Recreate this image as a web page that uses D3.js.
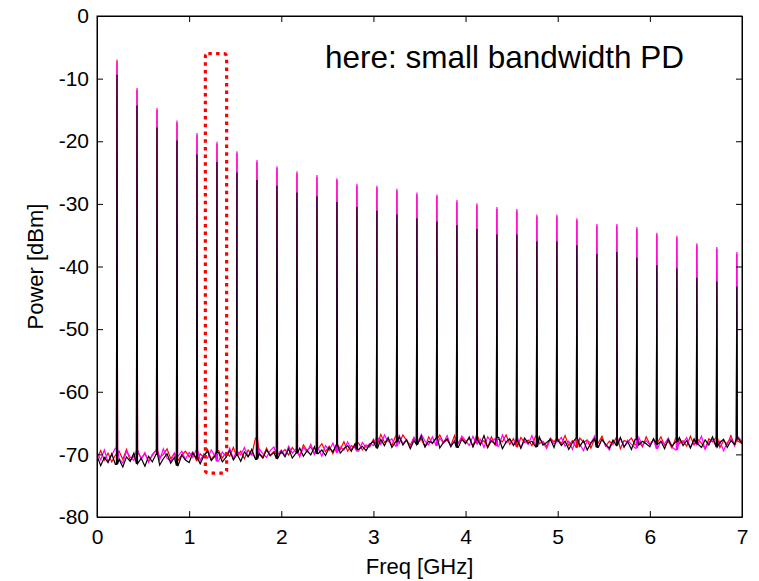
<!DOCTYPE html>
<html>
<head>
<meta charset="utf-8">
<script src="https://cdn.jsdelivr.net/npm/d3@7"></script>
<style>
  body { margin: 0; background: #fff; }
  text { font-family: "Liberation Sans", Arial, Helvetica, sans-serif; fill: #000; }
</style>
</head>
<body>
<div id="chart"></div>
<script>
// ---- data ----
const peakFreqs = [0.217, 0.434, 0.651, 0.868, 1.085, 1.302, 1.519, 1.736, 1.953, 2.170, 2.387, 2.604,
                   2.821, 3.038, 3.255, 3.472, 3.689, 3.906, 4.123, 4.340, 4.557, 4.774, 4.991, 5.208,
                   5.425, 5.642, 5.859, 6.076, 6.293, 6.510, 6.727, 6.944];

const peaksMagenta = [-7.3, -11.5, -14.7, -16.7, -18.7, -20.1, -21.6, -23.0, -24.0, -24.8, -25.4, -25.9,
                      -26.8, -27.1, -27.6, -28.2, -28.5, -29.4, -29.9, -30.5, -30.8, -31.7, -31.7, -32.3,
                      -33.2, -33.2, -33.7, -34.6, -35.1, -36.3, -36.9, -37.7];
const peaksRed = [-7.0, -11.8, -15.0, -17.0, -19.0, -20.4, -21.9, -23.3, -24.3, -25.1, -25.7, -26.2,
                  -27.1, -27.4, -27.9, -28.5, -28.8, -29.7, -30.2, -30.8, -31.1, -32.0, -32.0, -32.6,
                  -33.5, -33.5, -34.0, -34.9, -35.4, -36.6, -37.2, -38.0];
const peaksBlack = [-9.4, -14.3, -17.8, -19.9, -22.1, -23.3, -25.0, -26.2, -27.1, -28.2, -28.8, -29.7,
                    -30.5, -31.1, -31.7, -32.3, -32.8, -33.4, -34.0, -34.9, -34.9, -36.0, -36.0, -36.6,
                    -38.0, -37.7, -38.6, -39.8, -40.3, -41.8, -42.4, -43.2];

// noise floor, one sample every 0.04 GHz from 0 to 7 GHz (one row per GHz)
const noiseStep = 0.04;
const noiseBlack = [
  -70.2,-71.8,-70.5,-71.3,-69.9,-71.6,-70.8,-72.0,-70.4,-71.1,-69.8,-71.5,-70.6,-71.9,-70.3,-71.2,-70.0,-71.7,-70.7,-69.9,-71.4,-70.5,-71.8,-70.1,-70.9,
  -71.3,-69.8,-70.6,-71.5,-70.2,-69.5,-71.0,-70.3,-69.7,-71.2,-70.5,-69.4,-70.9,-70.1,-71.1,-69.6,-70.4,-69.2,-70.8,-69.9,-70.6,-69.3,-70.2,-69.7,-70.7,
  -69.5,-70.4,-69.1,-70.6,-69.8,-69.0,-70.3,-69.4,-70.1,-68.8,-69.9,-69.3,-70.2,-68.9,-69.6,-68.5,-69.8,-69.1,-68.6,-69.5,-68.3,-69.2,-68.7,-69.4,-68.4,
  -67.9,-69.0,-67.6,-68.6,-67.3,-68.9,-68.0,-67.2,-68.5,-67.7,-69.1,-67.8,-68.4,-67.1,-68.8,-67.9,-68.2,-67.4,-69.0,-68.1,-67.5,-68.7,-67.9,-68.9,-67.6,
  -68.3,-67.2,-68.8,-67.6,-68.5,-67.0,-68.9,-67.8,-68.4,-67.3,-69.1,-68.0,-67.5,-68.6,-67.8,-69.0,-67.4,-68.2,-67.9,-68.8,-67.2,-68.5,-68.1,-67.6,-68.9,
  -67.7,-68.6,-67.9,-69.2,-68.1,-67.4,-68.7,-67.8,-69.3,-68.2,-67.5,-68.9,-67.6,-68.4,-69.0,-67.7,-68.6,-67.3,-68.8,-68.0,-69.2,-67.6,-68.5,-67.9,-68.3,
  -68.8,-67.5,-68.4,-67.9,-69.1,-67.6,-68.7,-68.0,-67.3,-68.6,-67.8,-69.0,-67.5,-68.3,-68.9,-67.7,-68.5,-67.2,-68.8,-68.1,-67.6,-68.9,-67.8,-68.4,-67.5,-68.2];
const noiseMagenta = [
  -69.6,-70.9,-69.3,-71.2,-70.1,-69.0,-70.7,-71.4,-69.5,-70.4,-71.0,-69.2,-70.8,-69.7,-71.3,-70.0,-69.4,-70.9,-69.1,-70.6,-71.1,-69.8,-70.3,-69.5,-70.8,
  -69.7,-70.5,-69.2,-71.0,-69.9,-70.6,-69.3,-70.2,-71.1,-69.6,-70.4,-69.0,-70.7,-69.5,-70.1,-68.9,-70.3,-69.8,-70.6,-69.1,-69.9,-70.5,-69.4,-68.8,-70.0,
  -69.3,-70.2,-68.7,-69.8,-69.1,-70.4,-68.9,-69.6,-68.4,-69.9,-69.0,-70.3,-68.6,-69.4,-68.2,-69.7,-68.8,-69.3,-68.0,-69.2,-68.6,-69.5,-68.1,-68.9,-68.3,
  -68.6,-67.2,-68.4,-66.9,-68.0,-67.5,-68.7,-67.0,-68.3,-67.6,-68.9,-67.3,-68.1,-66.8,-67.9,-68.5,-67.2,-68.6,-67.4,-68.2,-67.0,-68.8,-67.7,-68.3,-67.1,
  -67.8,-68.6,-67.1,-68.3,-67.6,-68.9,-67.2,-68.0,-67.5,-68.7,-66.9,-68.2,-67.7,-68.5,-67.3,-69.0,-67.8,-68.4,-67.0,-68.6,-67.5,-68.1,-69.1,-67.6,-68.3,
  -68.0,-67.3,-68.7,-67.9,-69.2,-67.5,-68.4,-69.4,-67.8,-68.2,-67.1,-68.8,-67.6,-68.5,-69.3,-67.9,-68.1,-67.4,-68.9,-67.7,-68.4,-69.0,-67.3,-68.6,-67.8,
  -68.5,-67.6,-69.1,-67.9,-68.3,-67.4,-68.8,-69.3,-67.7,-68.2,-67.3,-68.9,-67.8,-68.4,-67.1,-69.2,-68.0,-67.6,-68.7,-67.9,-69.4,-68.1,-67.5,-68.6,-67.2,-68.0];
const noiseRed = [
  -70.7,-69.4,-70.9,-69.8,-71.2,-70.1,-69.5,-70.8,-69.2,-71.0,-70.3,-69.6,-70.6,-69.9,-71.1,-70.2,-69.3,-70.5,-70.0,-69.1,-70.7,-69.8,-71.0,-70.1,-69.5,
  -70.4,-69.6,-71.0,-69.9,-70.5,-69.2,-70.8,-70.0,-69.4,-70.6,-69.7,-70.3,-68.9,-70.2,-69.5,-70.7,-69.3,-70.1,-67.4,-69.8,-70.4,-69.0,-70.2,-69.5,-70.0,
  -69.8,-69.2,-70.1,-68.9,-69.7,-70.3,-68.5,-69.4,-68.8,-70.0,-69.1,-68.3,-69.6,-68.7,-69.9,-68.4,-69.2,-68.0,-69.5,-68.6,-69.0,-68.2,-69.3,-68.5,-68.8,
  -67.6,-68.4,-66.8,-68.1,-67.5,-68.6,-67.1,-68.2,-66.9,-67.8,-68.5,-67.3,-68.0,-67.6,-68.8,-67.2,-68.3,-67.5,-66.9,-68.1,-67.7,-68.6,-67.0,-68.2,-67.4,
  -68.1,-67.4,-68.7,-67.0,-68.3,-67.8,-68.9,-67.2,-68.5,-67.6,-68.0,-66.9,-68.4,-67.5,-68.8,-67.3,-68.1,-67.7,-68.6,-67.1,-68.3,-67.9,-68.7,-67.4,-68.0,
  -67.5,-68.3,-67.0,-68.6,-67.8,-68.9,-67.4,-68.1,-67.7,-69.0,-67.5,-68.2,-67.1,-68.7,-67.9,-68.4,-67.3,-69.1,-67.8,-68.0,-67.4,-68.5,-67.9,-68.8,-67.2,
  -68.4,-67.7,-68.1,-67.2,-68.6,-67.9,-69.0,-67.4,-68.3,-67.8,-68.7,-67.1,-68.5,-67.6,-68.2,-69.1,-67.5,-68.0,-67.3,-68.9,-67.8,-68.4,-67.0,-68.6,-67.9,-68.3];

const xTicks = [0, 1, 2, 3, 4, 5, 6, 7];
const yTicks = [0, -10, -20, -30, -40, -50, -60, -70, -80];
const markBox = {f0: 1.176, f1: 1.407, top: -6.0, bottom: -73.0}; // dotted highlight

const MARGIN = {top: 16, right: 17, bottom: 64, left: 97},
  WIDTH = 759 - MARGIN.left - MARGIN.right,
  HEIGHT = 581 - MARGIN.top - MARGIN.bottom;

var x = d3.scaleLinear().domain([0, 7]).range([0, WIDTH]);
var y = d3.scaleLinear().domain([-80, 0]).range([HEIGHT, 0]);

// merge noise floor and narrow spikes into one trace, sorted by frequency
const buildTrace = function(noise, peaks){
    let pts = noise.map((v, i) => ({f: i * noiseStep, v: v}));
    const half = 0.006;
    peakFreqs.forEach((f, i) => {
        let base = noise[Math.round(f / noiseStep)];
        pts.push({f: f - half, v: base}, {f: f, v: peaks[i]}, {f: f + half, v: base});
    });
    return pts.sort((a, b) => a.f - b.f);
};

const series = [
    {name: 'red', color: '#ff0000', pts: buildTrace(noiseRed, peaksRed)},
    {name: 'magenta', color: '#ff00ff', pts: buildTrace(noiseMagenta, peaksMagenta)},
    {name: 'black', color: '#000000', pts: buildTrace(noiseBlack, peaksBlack)}
];

const svg = d3.select('#chart').append('svg')
    .attr('width', 759)
    .attr('height', 581);

const g = svg.append('g')
    .attr('transform', `translate(${MARGIN.left},${MARGIN.top})`);

const line = d3.line().x(d => x(d.f)).y(d => y(d.v));

g.append('defs').append('clipPath').attr('id', 'clip')
    .append('rect').attr('width', WIDTH).attr('height', HEIGHT);

g.append('g').attr('clip-path', 'url(#clip)')
    .selectAll('path.trace')
    .data(series)
    .enter()
    .append('path')
    .classed('trace', true)
    .attr('fill', 'none')
    .attr('stroke', d => d.color)
    .attr('stroke-width', 1.2)
    .attr('d', d => line(d.pts));

// axes, MATLAB style: full box, ticks pointing inwards on all four sides
const tickFont = 21;
const plain = d => String(d); // keep ascii hyphen minus like the original
const xAxis = d3.axisBottom(x).tickValues(xTicks).tickFormat(plain).tickSizeInner(-6).tickSizeOuter(0).tickPadding(12);
const yAxis = d3.axisLeft(y).tickValues(yTicks).tickFormat(plain).tickSizeInner(-6).tickSizeOuter(0).tickPadding(8);

g.append('g').attr('transform', `translate(0,${HEIGHT})`).call(xAxis)
    .call(a => a.selectAll('text').attr('font-size', tickFont).attr('font-family', null));
g.append('g').call(yAxis)
    .call(a => a.selectAll('text').attr('font-size', tickFont).attr('font-family', null));
g.append('g').call(d3.axisTop(x).tickValues(xTicks).tickSizeInner(-6).tickSizeOuter(0).tickFormat(''));
g.append('g').attr('transform', `translate(${WIDTH},0)`)
    .call(d3.axisRight(y).tickValues(yTicks).tickSizeInner(-6).tickSizeOuter(0).tickFormat(''));

g.selectAll('.domain').attr('stroke', '#000');
g.selectAll('.tick line').attr('stroke', '#000');

g.append('rect')
    .attr('width', WIDTH).attr('height', HEIGHT)
    .attr('fill', 'none').attr('stroke', '#000').attr('stroke-width', 1);

// dotted red box around one harmonic
g.append('rect')
    .attr('x', x(markBox.f0))
    .attr('y', y(markBox.top))
    .attr('width', x(markBox.f1) - x(markBox.f0))
    .attr('height', y(markBox.bottom) - y(markBox.top))
    .attr('rx', 3)
    .attr('fill', 'none')
    .attr('stroke', '#ff0000')
    .attr('stroke-width', 3.2)
    .attr('stroke-dasharray', '3.5,4.2');

g.append('text')
    .attr('x', 228)
    .attr('y', 52)
    .attr('font-size', 31.5)
    .text('here: small bandwidth PD');

svg.append('text')
    .attr('x', MARGIN.left + WIDTH / 2)
    .attr('y', 574)
    .attr('text-anchor', 'middle')
    .attr('font-size', 22)
    .text('Freq [GHz]');

svg.append('text')
    .attr('transform', `translate(43,${MARGIN.top + HEIGHT / 2}) rotate(-90)`)
    .attr('text-anchor', 'middle')
    .attr('font-size', 22)
    .text('Power [dBm]');
</script>
</body>
</html>
